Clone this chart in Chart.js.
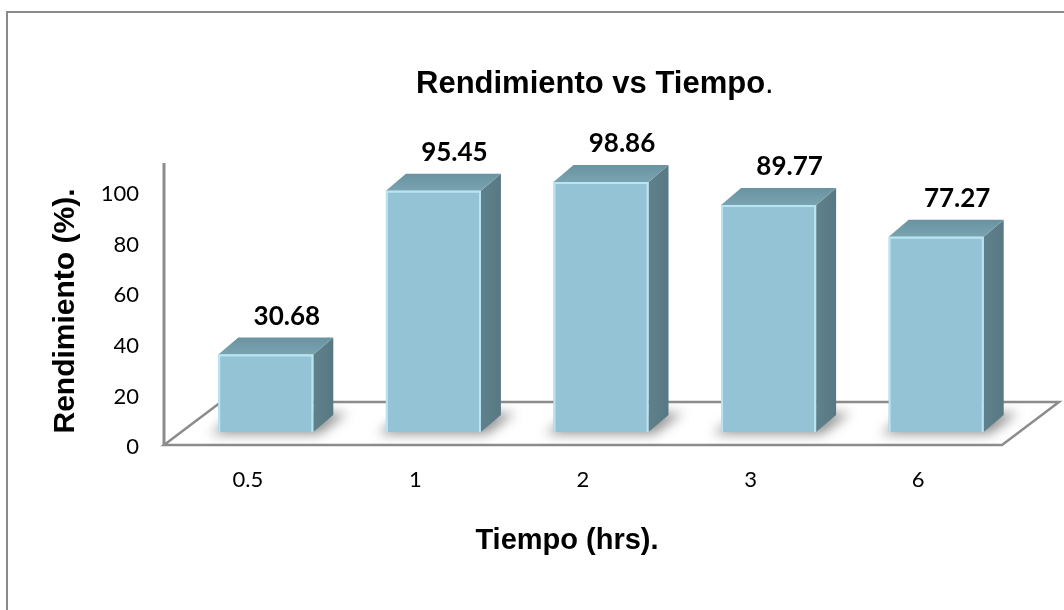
<!DOCTYPE html>
<html>
<head>
<meta charset="utf-8">
<title>Rendimiento vs Tiempo</title>
<script src="https://cdn.jsdelivr.net/npm/chart.js@4.4.1/dist/chart.umd.min.js"></script>
<style>
  html, body { margin: 0; padding: 0; background: #fff; }
  #wrap { width: 1064px; height: 610px; position: relative; }
</style>
</head>
<body>
<div id="wrap"><canvas id="yieldChart"></canvas></div>
<script>
// tiempos de reaccion (hrs) y rendimiento obtenido (%)
const tiempos = ['0.5', '1', '2', '3', '6'];
const rendimiento = [30.68, 95.45, 98.86, 89.77, 77.27];
const yTicks = [0, 20, 40, 60, 80, 100];

// 3d look: offsets for the bar depth and the floor
const barDepth = { dx: 20, dy: -17 };
const floorFront = { dx: -18, dy: 13 };
const floorBack = { dx: 39, dy: -30 };

const poly = (ctx, pts) => {
    ctx.beginPath();
    ctx.moveTo(pts[0][0], pts[0][1]);
    for (let i = 1; i < pts.length; i++) ctx.lineTo(pts[i][0], pts[i][1]);
    ctx.closePath();
};

const barBoxes = (chart) => chart.getDatasetMeta(0).data.map(b => {
    const p = b.getProps(['x', 'y', 'base', 'width'], true);
    return { l: p.x - p.width / 2, r: p.x + p.width / 2, t: p.y, b: p.base, cx: p.x };
});

const bars3d = {
    id: 'bars3d',
    beforeDraw(chart) {
        const ctx = chart.ctx;
        ctx.save();
        ctx.fillStyle = '#fff';
        ctx.fillRect(0, 0, chart.width, chart.height);
        ctx.strokeStyle = '#8a8a8a';
        ctx.lineWidth = 2;
        ctx.strokeRect(7, 12, chart.width + 40, chart.height + 40);
        ctx.restore();
    },
    beforeDatasetsDraw(chart) {
        const { ctx, chartArea: a, scales: { y } } = chart;
        const y0 = y.getPixelForValue(0);
        const fl = [a.left + floorFront.dx, y0 + floorFront.dy];
        const fr = [a.right + floorFront.dx, y0 + floorFront.dy];
        const br = [a.right + floorBack.dx, y0 + floorBack.dy];
        const bl = [a.left + floorBack.dx, y0 + floorBack.dy];

        ctx.save();
        // floor
        poly(ctx, [fl, fr, br, bl]);
        ctx.fillStyle = '#fff';
        ctx.fill();
        ctx.strokeStyle = '#8c8c8c';
        ctx.lineWidth = 2.5;
        ctx.stroke();
        // vertical axis line
        ctx.beginPath();
        ctx.moveTo(fl[0], fl[1]);
        ctx.lineTo(fl[0], a.top - 1);
        ctx.lineWidth = 3;
        ctx.stroke();

        const boxes = barBoxes(chart);
        // soft shadows on the floor
        boxes.forEach(k => {
            ctx.save();
            ctx.filter = 'blur(6px)';
            ctx.fillStyle = 'rgba(40,40,40,0.5)';
            poly(ctx, [[k.l - 8, k.b + 2], [k.r + 6, k.b + 2],
                       [k.r + barDepth.dx + 14, k.b + barDepth.dy - 2], [k.l + barDepth.dx, k.b + barDepth.dy - 2]]);
            ctx.fill();
            ctx.restore();
        });

        // side and top faces
        boxes.forEach(k => {
            const side = [[k.r, k.t], [k.r + barDepth.dx, k.t + barDepth.dy],
                          [k.r + barDepth.dx, k.b + barDepth.dy], [k.r, k.b]];
            let g = ctx.createLinearGradient(k.r, 0, k.r + barDepth.dx, 0);
            g.addColorStop(0, '#5f818c');
            g.addColorStop(1, '#587984');
            poly(ctx, side);
            ctx.fillStyle = g;
            ctx.fill();

            const top = [[k.l, k.t], [k.r, k.t], [k.r + barDepth.dx, k.t + barDepth.dy],
                         [k.l + barDepth.dx, k.t + barDepth.dy]];
            g = ctx.createLinearGradient(0, k.t, 0, k.t + barDepth.dy);
            g.addColorStop(0, '#7aa3b2');
            g.addColorStop(1, '#6a93a2');
            poly(ctx, top);
            ctx.fillStyle = g;
            ctx.fill();
        });
        ctx.restore();
    },
    afterDatasetsDraw(chart) {
        const ctx = chart.ctx;
        const boxes = barBoxes(chart);
        ctx.save();
        boxes.forEach((k, i) => {
            // light bevel on the front face edges
            ctx.strokeStyle = 'rgba(190,232,245,0.9)';
            ctx.lineWidth = 2;
            ctx.beginPath();
            ctx.moveTo(k.l + 1, k.b);
            ctx.lineTo(k.l + 1, k.t + 1);
            ctx.lineTo(k.r - 1, k.t + 1);
            ctx.lineTo(k.r - 1, k.b);
            ctx.stroke();

            // value label
            ctx.fillStyle = '#000';
            ctx.font = 'bold 26px Lato';
            ctx.textAlign = 'center';
            ctx.textBaseline = 'middle';
            ctx.fillText(rendimiento[i].toFixed(2), k.cx + 21, k.t - 38);
        });
        ctx.restore();
    },
    afterDraw(chart) {
        const ctx = chart.ctx;
        ctx.save();
        ctx.fillStyle = '#000';
        ctx.textBaseline = 'alphabetic';
        ctx.textAlign = 'left';
        // chart title, closing period in regular weight
        ctx.font = 'bold 31px "Liberation Sans"';
        const head = 'Rendimiento vs Tiempo';
        ctx.fillText(head, 416, 93);
        const w = ctx.measureText(head).width;
        ctx.font = '31px "Liberation Sans"';
        ctx.fillText('.', 416 + w, 93);

        // axis titles
        ctx.font = 'bold 29px "Liberation Sans"';
        ctx.textAlign = 'center';
        ctx.fillText('Tiempo (hrs).', 567, 549);

        ctx.font = 'bold 30px "Liberation Sans"';
        ctx.translate(74, 311);
        ctx.rotate(-Math.PI / 2);
        ctx.fillText('Rendimiento (%).', 0, 0);
        ctx.restore();
    }
};

new Chart(document.getElementById('yieldChart'), {
    type: 'bar',
    data: {
        labels: tiempos,
        datasets: [{
            data: rendimiento,
            backgroundColor: '#93c3d4',
            borderWidth: 0,
            barPercentage: 0.567,
            categoryPercentage: 1
        }]
    },
    options: {
        responsive: true,
        maintainAspectRatio: false,
        animation: false,
        events: [],
        layout: { padding: { top: 164, right: 44, left: 0, bottom: 0 } },
        plugins: {
            legend: { display: false },
            tooltip: { enabled: false }
        },
        scales: {
            x: {
                offset: true,
                grid: { display: false, drawTicks: false },
                border: { display: false },
                ticks: {
                    color: '#000',
                    font: { family: 'Lato', size: 22 },
                    padding: 35,
                    labelOffset: -18,
                    maxRotation: 0
                },
                afterFit(scale) { scale.height = 178; }
            },
            y: {
                min: 0,
                max: 106,
                grid: { display: false, drawTicks: false },
                border: { display: false },
                afterBuildTicks(scale) {
                    scale.ticks = yTicks.map(v => ({ value: v }));
                },
                ticks: {
                    color: '#000',
                    font: { family: 'Lato', size: 22 },
                    padding: 43,
                    labelOffset: 15
                },
                afterFit(scale) { scale.width = 182; }
            }
        }
    },
    plugins: [bars3d]
});
</script>
</body>
</html>
